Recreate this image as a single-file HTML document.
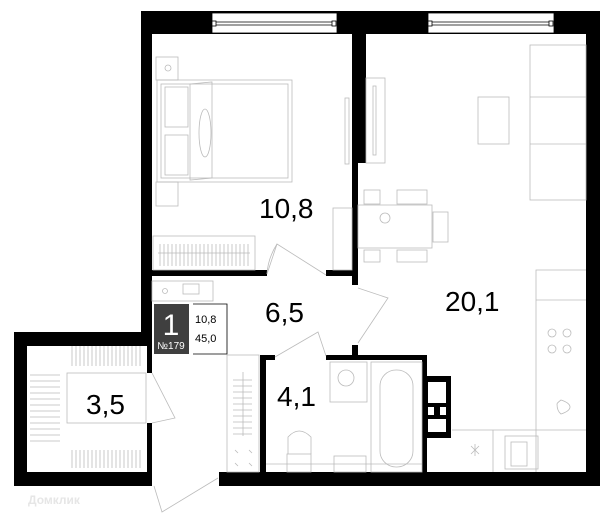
<!DOCTYPE html>
<html><head><meta charset="utf-8"><style>
html,body{margin:0;padding:0;background:#fff;width:600px;height:523px;overflow:hidden}
svg{display:block}
text{font-family:"Liberation Sans",sans-serif}
</style></head><body>
<svg width="600" height="523" viewBox="0 0 600 523" xmlns="http://www.w3.org/2000/svg">
<g fill="#000">
<!-- top wall -->
<rect x="141" y="11" width="459" height="23"/>
<!-- right wall -->
<rect x="586" y="11" width="14" height="475"/>
<!-- bedroom left wall -->
<rect x="141" y="11" width="11" height="321"/>
<rect x="147" y="332" width="5" height="41"/>
<rect x="147" y="423" width="5" height="63"/>
<!-- storage -->
<rect x="14" y="332" width="138" height="14"/>
<rect x="14" y="332" width="13" height="154"/>
<rect x="14" y="472" width="138" height="14"/>
<!-- bottom wall -->
<rect x="219" y="472" width="381" height="14"/>
<!-- bedroom bottom wall -->
<rect x="152" y="270" width="115" height="6"/>
<rect x="326" y="270" width="32" height="6"/>
<!-- partition -->
<rect x="352" y="34" width="14" height="129"/>
<rect x="352" y="34" width="6" height="251"/>
<rect x="352" y="345" width="6" height="15"/>
<!-- bathroom -->
<rect x="326" y="355" width="101" height="5"/>
<rect x="260" y="355" width="15" height="5"/>
<rect x="260" y="355" width="6" height="117"/>
<rect x="422" y="355" width="5" height="117"/>
<rect x="422" y="376" width="29" height="62"/>
</g>
<!-- shaft holes -->
<g fill="#fff">
<rect x="428" y="382" width="18" height="21"/>
<rect x="428" y="407" width="6" height="8"/>
<rect x="440" y="407" width="6" height="8"/>
<rect x="428" y="419" width="18" height="13"/>
</g>
<!-- windows -->
<g fill="#fff" stroke="#000" stroke-width="0.8">
<rect x="212" y="13" width="125" height="20"/>
<rect x="428" y="13" width="126" height="20"/>
</g>
<g stroke="#000" stroke-width="0.8" fill="#fff">
<line x1="215" y1="22" x2="334" y2="22"/><line x1="215" y1="25" x2="334" y2="25"/>
<rect x="212" y="21" width="4" height="5"/><rect x="332" y="21" width="4" height="5"/>
<line x1="431" y1="22" x2="551" y2="22"/><line x1="431" y1="25" x2="551" y2="25"/>
<rect x="428" y="21" width="4" height="5"/><rect x="549" y="21" width="4" height="5"/>
</g>
<!-- furniture -->
<g fill="none" stroke="#bbb" stroke-width="0.8">
<!-- bedroom -->
<rect x="156" y="57" width="22" height="23"/><circle cx="168" cy="68" r="3"/>
<rect x="157" y="80" width="135" height="102"/>
<rect x="161" y="84" width="127" height="94"/>
<rect x="165" y="87" width="23" height="40"/><rect x="165" y="135" width="23" height="40"/>
<path d="M190 84 L212 82 L212 178 L190 180 Z"/>
<ellipse cx="205" cy="133" rx="6" ry="24"/>
<rect x="156" y="182" width="22" height="24"/>
<rect x="153" y="236" width="102" height="34"/>
<path d="M158 253 H250 M160 244 V266 M164 244 V266 M168 244 V266 M172 244 V266 M176 244 V266 M180 244 V266 M184 244 V266 M188 244 V266 M192 244 V266 M196 244 V266 M200 244 V266 M204 244 V266 M208 244 V266 M212 244 V266 M216 244 V266 M220 244 V266 M224 244 V266 M228 244 V266 M232 244 V266 M236 244 V266 M240 244 V266 M244 244 V266 M248 244 V266"/>
<rect x="345" y="98" width="4" height="66"/>
<rect x="333" y="208" width="19" height="62"/>
<!-- door bedroom -->
<path d="M267 274 L277 244 L326 275"/>
<path d="M267 274 Q268 258 277 244"/>
<!-- living -->
<rect x="366" y="78" width="19" height="85"/><rect x="373" y="86" width="3" height="69"/>
<rect x="530" y="45" width="56" height="155"/><line x1="530" y1="97" x2="586" y2="97"/><line x1="530" y1="144" x2="586" y2="144"/>
<rect x="478" y="97" width="31" height="47"/>
<rect x="358" y="205" width="74" height="43"/>
<rect x="364" y="190" width="16" height="14"/><rect x="397" y="190" width="30" height="14"/>
<rect x="364" y="250" width="16" height="12"/><rect x="397" y="250" width="30" height="12"/>
<rect x="433" y="212" width="15" height="30"/>
<circle cx="385" cy="218" r="5"/>
<!-- kitchen -->
<path d="M586 270 H536 V472"/>
<path d="M536 300 H586"/>
<circle cx="552" cy="333" r="4"/><circle cx="567" cy="333" r="4"/>
<circle cx="552" cy="349" r="4"/><circle cx="567" cy="349" r="4"/>
<path d="M452 430 H586 M493 430 V472"/>
<rect x="505" y="436" width="33" height="33"/><rect x="511" y="442" width="16" height="24"/>
<path d="M557 404 Q557 411 561 414 Q570 411 570 407 Q570 403 561 400 Q557 403 557 404"/>
<path d="M471 446 l8 8 M479 446 l-8 8 M475 444 V456"/>
<!-- living door -->
<path d="M358 288 L388 298 L358 343"/>
<!-- hallway -->
<rect x="152" y="281" width="61" height="20"/><circle cx="165" cy="291" r="2.5"/>
<rect x="183" y="284" width="16" height="10"/>
<rect x="227" y="355" width="32" height="117"/>
<path d="M233 380 H252 M233 386 H252 M233 392 H252 M233 398 H252 M233 404 H252 M233 410 H252 M233 416 H252 M233 422 H252 M233 428 H252 M233 434 H252 M243 372 V436"/>
<path d="M235 450 l3 3 M249 450 l3 3 M235 463 l3 3 M249 463 l3 3"/>
<!-- storage -->
<rect x="67" y="373" width="79" height="50"/>
<path d="M72 366 V346 M76 366 V346 M80 366 V346 M84 366 V346 M88 366 V346 M92 366 V346 M96 366 V346 M100 366 V346 M104 366 V346 M108 366 V346 M112 366 V346 M116 366 V346 M120 366 V346 M124 366 V346 M128 366 V346 M132 366 V346 M136 366 V346 M140 366 V346"/>
<path d="M72 450 V468 M76 450 V468 M80 450 V468 M84 450 V468 M88 450 V468 M92 450 V468 M96 450 V468 M100 450 V468 M104 450 V468 M108 450 V468 M112 450 V468 M116 450 V468 M120 450 V468 M124 450 V468 M128 450 V468 M132 450 V468 M136 450 V468 M140 450 V468"/>
<path d="M30 375 H60 M30 381 H60 M30 387 H60 M30 393 H60 M30 399 H60 M30 405 H60 M30 411 H60 M30 417 H60 M30 423 H60 M30 429 H60 M30 435 H60 M30 441 H60"/>
<path d="M152 373 L175 418 L152 423"/>
<!-- entry door -->
<path d="M154 486 L162 512 L218 478"/>
<!-- bathroom door -->
<path d="M275 357 L318 332 L326 356"/>
<!-- bathroom -->
<rect x="330" y="362" width="37" height="40"/><circle cx="346" cy="378" r="8"/>
<rect x="371" y="362" width="51" height="110"/>
<rect x="380" y="370" width="33" height="97" rx="16"/>
<rect x="287" y="454" width="24" height="18"/>
<path d="M288 454 V437 Q299 425 311 437 V454"/>
<rect x="334" y="456" width="32" height="16"/>
<path d="M266 464 H422"/>
</g>
<!-- badge -->
<rect x="154" y="304" width="35" height="50" fill="#3f3f3f"/>
<text x="171" y="335" font-size="30" fill="#fff" text-anchor="middle">1</text>
<text x="171" y="349" font-size="10" fill="#fff" text-anchor="middle">№179</text>
<path d="M193 304 H227 V354 H193" fill="none" stroke="#000" stroke-width="0.8"/>
<text x="195" y="323" font-size="11" fill="#000">10,8</text>
<text x="195" y="342" font-size="11" fill="#000">45,0</text>
<!-- labels -->
<g font-size="28" fill="#000">
<text x="259" y="218">10,8</text>
<text x="445" y="311">20,1</text>
<text x="265" y="322">6,5</text>
<text x="86" y="414">3,5</text>
<text x="277" y="406">4,1</text>
</g>
<text x="28" y="504" font-size="12" fill="#e6e6e6" font-weight="bold">Домклик</text>
</svg>
</body></html>
